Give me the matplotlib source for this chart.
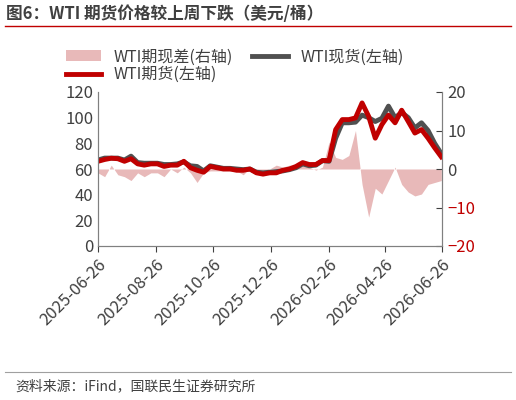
import matplotlib
matplotlib.use("Agg")
import matplotlib.pyplot as plt
import matplotlib.dates as mdates
import numpy as np
import pandas as pd

plt.rcParams['font.family'] = ['Noto Sans CJK SC', 'DejaVu Sans']

dates = pd.date_range("2025-06-26", periods=53, freq="7D")
futures = [66, 67.4, 68.4, 68, 66, 68, 64, 63, 64, 64, 62, 63, 63, 66, 61, 59, 57.5, 62, 61, 60,
           60, 59, 59, 60, 57, 56, 57, 57, 59, 60, 62, 65, 63.5, 63.5, 66.6, 66.6, 90.7, 98.5, 98.5, 99.8,
           111.5, 101, 84, 94.6, 102, 96, 105.8, 97, 88, 90.7, 84, 76.5, 69.5]
spot = [67, 68.5, 68.5, 68.5, 67, 70, 65, 64.5, 64.5, 64.5, 63.5, 63.5, 64, 65.5, 62.5, 62, 58.5, 62.5, 61.5, 60.5,
        60.5, 60, 59.5, 60, 57.5, 57, 57.5, 58, 58.5, 59.5, 61, 64, 62.5, 63, 66.5, 66, 84, 96, 96, 96.5,
        102, 100, 97, 99.5, 109, 100, 104, 100, 92, 96, 90, 80, 72]
spread = [-1, -2, 1, -1.5, -2, -3, -1, -2, -1, -1, -2, 0, -1, 0.5, -1, -3.5, -1, -0.5, -0.5, -0.5,
          -0.5, -0.5, -1.5, 0.3, -0.5, -0.5, 0, 1, 0.5, 1, 1, 1, 0.5, -0.3, 0.5, 7, 3, 2.5, 3.5, 10,
          -4, -12.5, -5, -6.5, -3, 0.5, -4, -6, -7, -6.5, -4, -3.5, -3]
spread = spread[:53]
tick_dates = pd.to_datetime(["2025-06-26", "2025-08-26", "2025-10-26", "2025-12-26",
                             "2026-02-26", "2026-04-26", "2026-06-26"])

fig = plt.figure(figsize=(5.16, 4.0), dpi=100)
ax = fig.add_axes([0.19, 0.385, 0.667, 0.385])
ax2 = ax.twinx()
ax.set_zorder(2); ax.patch.set_visible(False)

ax2.fill_between(dates, spread, 0, color="#e8b9b9", lw=0, label="WTI期现差(右轴)")
ax.plot(dates, spot, color="#505050", lw=3.5, label="WTI现货(左轴)")
ax.plot(dates, futures, color="#c00000", lw=3.5, label="WTI期货(左轴)")

ax.set_ylim(0, 120); ax.set_yticks(range(0, 121, 20))
ax2.set_ylim(-20, 20); ax2.set_yticks([-20, -10, 0, 10, 20])
ax.set_xlim(dates[0], dates[-1])
ax.set_xticks(tick_dates)
ax.xaxis.set_major_formatter(mdates.DateFormatter("%Y-%m-%d"))
for lab in ax.get_xticklabels():
    lab.set_rotation(45); lab.set_ha("right"); lab.set_rotation_mode("anchor")
ax.tick_params(axis="x", labelsize=12, colors="#404040", length=4, direction="out")
ax.tick_params(axis="y", labelsize=12, colors="#404040", length=0)
ax2.tick_params(axis="y", labelsize=12, length=4, direction="in", colors="#404040")
for t, v in zip(ax2.get_yticklabels(), [-20, -10, 0, 10, 20]):
    t.set_color("#c00000" if v < 0 else "#404040")
for a in (ax, ax2):
    a.spines["top"].set_visible(False)
    for s in ("left", "right", "bottom"):
        a.spines[s].set_color("#808080")

h1, l1 = ax2.get_legend_handles_labels()
h2, l2 = ax.get_legend_handles_labels()
fig.legend([h1[0], h2[1], h2[0]], [l1[0], l2[1], l2[0]], loc="upper left",
           bbox_to_anchor=(0.1, 0.915), ncol=2, frameon=False, fontsize=11.5,
           handlelength=2.2, columnspacing=1.2, labelspacing=0.05, labelcolor="#404040")

fig.text(0.012, 0.965, "图6：WTI 期货价格较上周下跌（美元/桶）", fontsize=12, fontweight="bold",
         color="#404040", va="center")
fig.add_artist(plt.Line2D([0.01, 0.99], [0.935, 0.935], color="#c00000", lw=1))
fig.text(0.03, 0.035, "资料来源：iFind，国联民生证券研究所", fontsize=10, color="#404040", va="center")
fig.add_artist(plt.Line2D([0.01, 0.99], [0.07, 0.07], color="#a0a0a0", lw=0.8))
fig.savefig("out.png", dpi=100)
